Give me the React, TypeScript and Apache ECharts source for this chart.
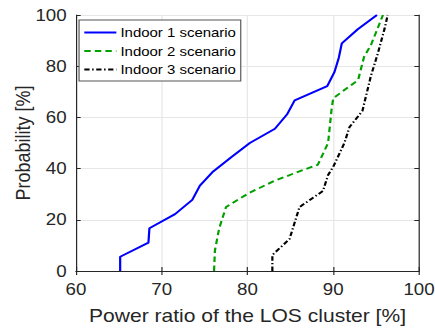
import React, { useEffect, useRef } from "react";
import * as echarts from "echarts";

const seriesNames = ["Indoor 1 scenario", "Indoor 2 scenario", "Indoor 3 scenario"];

const indoor1X = [65.15, 65.15, 68.45, 68.56, 71.55, 73.56, 74.45, 76.0, 78.1, 80.27, 83.2, 84.6, 85.5, 89.3, 90.15, 90.65, 91.0, 92.86, 95.1];
const indoor1Y = [0, 5.56, 11.11, 16.67, 22.22, 27.78, 33.33, 38.89, 44.44, 50, 55.56, 61.11, 66.67, 72.22, 77.78, 83.33, 88.89, 94.44, 100];

const indoor2X = [76.1, 76.2, 76.7, 77.5, 80.2, 83.0, 85.7, 88.2, 89.4, 89.8, 90.0, 92.9, 93.6, 94.4, 95.8];
const indoor2Y = [0, 8, 16.7, 25, 30.5, 35, 38.5, 41.5, 50, 63, 67.5, 74.6, 83.7, 88.3, 100];

const indoor3X = [82.9, 82.9, 84.9, 86.07, 88.8, 89.4, 90.0, 91.3, 91.9, 93.4, 94.4, 95.2, 96.0, 96.35];
const indoor3Y = [0, 6.25, 12.5, 25, 31.25, 37.5, 40.7, 50, 56.25, 62.5, 76.3, 85, 94.8, 100];

const xTicks = { min: 60, max: 100, interval: 10 };
const yTicks = { min: 0, max: 100, interval: 20 };

const FONT = "'Liberation Sans', Arial, Helvetica, sans-serif";
const AX = "#262626";

// The reference figure is horizontally stretched; draw at a narrower width and scale.
const OUT_W = 435;
const OUT_H = 330;
const INNER_W = 372;
const SX = OUT_W / INNER_W;

function pairs(xs: number[], ys: number[]) {
  return xs.map((x, i) => [x, ys[i]]);
}

export default function App() {
  const ref = useRef<HTMLDivElement>(null);
  useEffect(() => {
    if (!ref.current) return;
    const chart = echarts.init(ref.current, null, { renderer: "svg", width: INNER_W, height: OUT_H });
    const axisCommon = {
      axisLine: { show: true, lineStyle: { color: AX, width: 1 } },
      axisTick: { show: true, inside: true, length: 4, lineStyle: { color: AX } },
    };
    chart.setOption({
      animation: false,
      backgroundColor: "#ffffff",
      grid: { left: 65, right: 13.7, top: 15, bottom: 59, containLabel: false, outerBoundsMode: "none" },
      legend: {
        orient: "vertical",
        left: 67.6,
        top: 20,
        width: 137,
        padding: [6, 4, 5, 3.5],
        itemGap: 5.5,
        itemWidth: 27.4,
        itemHeight: 14,
        backgroundColor: "#ffffff",
        borderColor: "#555555",
        borderWidth: 1,
        borderRadius: 0,
        itemStyle: { color: "rgba(0,0,0,0)", borderColor: "rgba(0,0,0,0)", borderWidth: 0, opacity: 0 },
        textStyle: { fontFamily: FONT, fontSize: 12.8, color: "#000000", padding: [0, 0, 0, -1.5] },
        data: seriesNames,
      },
      xAxis: [
        {
          type: "value",
          ...xTicks,
          position: "bottom",
          ...axisCommon,
          axisLabel: { fontFamily: FONT, fontSize: 16, color: AX, margin: 10 },
          splitLine: { show: true, lineStyle: { color: "#e6e6e6", width: 1 } },
          name: "Power ratio of the LOS cluster [%]",
          nameLocation: "middle",
          nameGap: 36,
          nameMoveOverlap: false,
          nameTextStyle: { fontFamily: FONT, fontSize: 18, color: AX },
        },
        {
          type: "value",
          ...xTicks,
          position: "top",
          ...axisCommon,
          axisLabel: { show: false },
          splitLine: { show: false },
        },
      ],
      yAxis: [
        {
          type: "value",
          ...yTicks,
          position: "left",
          ...axisCommon,
          axisLabel: { fontFamily: FONT, fontSize: 16, color: AX, margin: 8 },
          splitLine: { show: true, lineStyle: { color: "#e6e6e6", width: 1 } },
          name: "Probability [%]",
          nameLocation: "middle",
          nameGap: 37,
          nameMoveOverlap: false,
          nameTextStyle: { fontFamily: FONT, fontSize: 18, color: AX },
        },
        {
          type: "value",
          ...yTicks,
          position: "right",
          ...axisCommon,
          axisLabel: { show: false },
          splitLine: { show: false },
        },
      ],
      series: [
        {
          name: seriesNames[0],
          type: "line",
          data: pairs(indoor1X, indoor1Y),
          showSymbol: false,
          symbol: "none",
          lineStyle: { color: "#0000ff", width: 1.9, type: "solid" },
          itemStyle: { color: "#0000ff" },
        },
        {
          name: seriesNames[1],
          type: "line",
          data: pairs(indoor2X, indoor2Y),
          showSymbol: false,
          symbol: "none",
          lineStyle: { color: "#00a000", width: 1.9, type: [5.5, 3.5] },
          itemStyle: { color: "#00a000" },
        },
        {
          name: seriesNames[2],
          type: "line",
          data: pairs(indoor3X, indoor3Y),
          showSymbol: false,
          symbol: "none",
          lineStyle: { color: "#000000", width: 1.9, type: [4.5, 2.2, 1.3, 2.2] },
          itemStyle: { color: "#000000" },
        },
      ],
    });
    return () => chart.dispose();
  }, []);
  return (
    <div style={{ position: "fixed", left: 0, top: 0, width: OUT_W, height: OUT_H, background: "#fff", overflow: "hidden" }}>
      <div
        ref={ref}
        style={{
          width: INNER_W,
          height: OUT_H,
          transform: `scaleX(${SX})`,
          transformOrigin: "0 0",
        }}
      />
    </div>
  );
}
